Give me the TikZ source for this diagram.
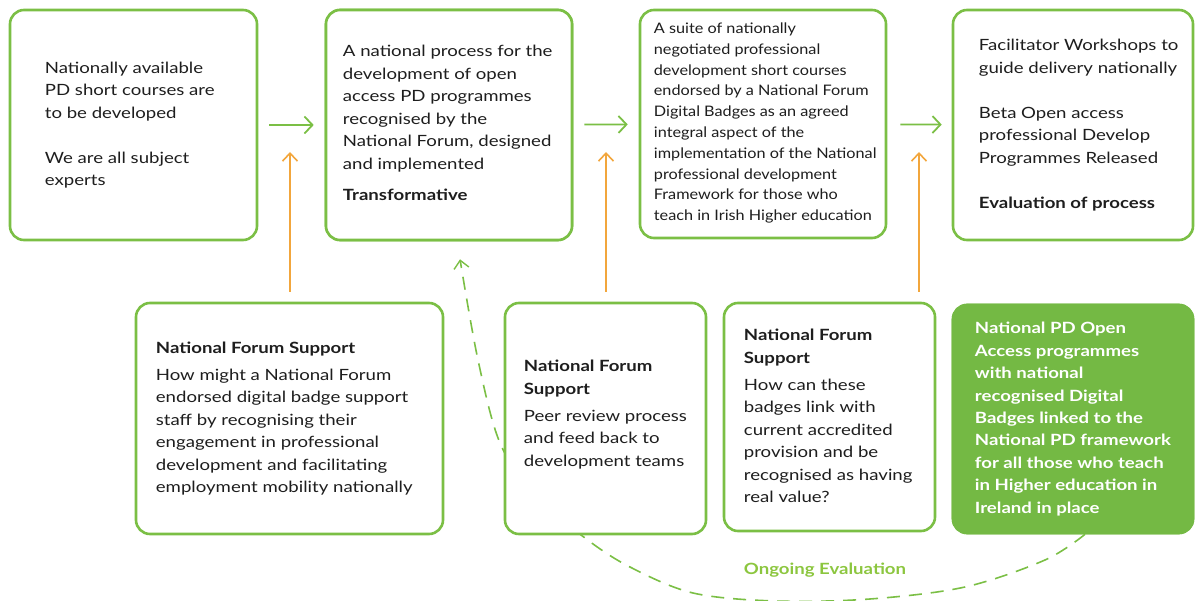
\documentclass[tikz,border=0pt]{standalone}
\usepackage{fontspec}
\setmainfont{Lato}[FakeStretch=1.2]
\newfontfamily\narrowlato{Lato}[FakeStretch=1.12]
\usetikzlibrary{arrows.meta}
\definecolor{gline}{HTML}{7BBF45}
\definecolor{gfill}{HTML}{74B944}
\definecolor{orng}{HTML}{F2A63C}
\definecolor{txt}{HTML}{1E1E1E}
\definecolor{glabel}{HTML}{8CC63F}
\begin{document}
\begin{tikzpicture}[x=1pt,y=-1pt,
  box/.style={draw=gline, line width=2.6pt, rounded corners=14pt, fill=white, inner sep=0pt},
  fbox/.style={box, fill=gfill, draw=gfill},
  btxt/.style={anchor=west, align=left, inner sep=0pt, text=txt, font=\fontsize{15.5}{22.5}\selectfont},
  stxt/.style={btxt, font=\narrowlato\fontsize{14.5}{20.8}\selectfont},
  wtxt/.style={btxt, text=white, font=\bfseries\fontsize{15.5}{22.4}\selectfont},
  garrow/.style={draw=gline, line width=1.8pt, -{Straight Barb[length=8pt,width=17pt,line width=1.8pt]}},
  oarrow/.style={draw=orng, line width=1.6pt, -{Straight Barb[length=8pt,width=15pt,line width=1.6pt]}},
  darrow/.style={draw=gline, line width=1.6pt, dash pattern=on 13pt off 9pt, -{Straight Barb[length=8pt,width=15pt,line width=1.4pt]}},
]
\useasboundingbox (0,0) rectangle (1195,601);

% dashed evaluation loop (drawn first, hidden behind boxes)
\node[box, minimum width=246pt, minimum height=230pt] (b2) at (449,125) {};
\node[fbox, minimum width=240pt, minimum height=228pt] (b8) at (1073,419) {};
\coordinate (e1) at ([xshift=12pt]b8.south);
\coordinate (e2) at ([xshift=11pt,yshift=-18pt]b2.south);
\draw[darrow] plot[smooth, tension=0.55] coordinates {(e1) (1045,560) (965,587) (870,599) (775,601) (693,593) (630,567) (585,538) (535,495) (500,443) (478,360) (e2)};

% top row
\node[box, minimum width=247pt, minimum height=230pt] (b1) at (133.5,125) {};
\node[box, minimum width=246pt, minimum height=230pt] (b2) at (449,125) {};
\node[box, minimum width=246pt, minimum height=228pt] (b3) at (763,124) {};
\node[box, minimum width=240pt, minimum height=230pt] (b4) at (1073,125) {};

\node[btxt] (t1) at ([xshift=36pt]b1.west) {Nationally available\\PD short courses are\\to be developed\\[22.5pt]We are all subject\\experts};
\node[btxt] (t2) at ([xshift=18pt,yshift=2pt]b2.west) {A national process for the\\development of open\\access PD programmes\\recognised by the\\National Forum, designed\\and implemented\\[8.5pt]\textbf{Transformative}};
\node[stxt] (t3) at ([xshift=15pt,yshift=1pt]b3.west) {A suite of nationally\\negotiated professional\\development short courses\\endorsed by a National Forum\\Digital Badges as an agreed\\integral aspect of the\\implementation of the National\\professional development\\Framework for those who\\teach in Irish Higher education};
\node[btxt] (t4) at ([xshift=27pt]b4.west) {Facilitator Workshops to\\guide delivery nationally\\[22.5pt]Beta Open access\\professional Develop\\Programmes Released\\[22.5pt]\textbf{Evaluation of process}};

% bottom row
\node[box, minimum width=307pt, minimum height=231pt] (b5) at (289.5,418.5) {};
\node[box, minimum width=201pt, minimum height=231pt] (b6) at (605.5,418.5) {};
\node[box, minimum width=211pt, minimum height=228pt] (b7) at (829.5,417) {};
\node[fbox, minimum width=240pt, minimum height=228pt] (b8) at (1073,419) {};

\node[btxt] (t5) at ([xshift=21pt]b5.west) {\textbf{National Forum Support}\\[4.5pt]How might a National Forum\\endorsed digital badge support\\staff by recognising their\\engagement in professional\\development and facilitating\\employment mobility nationally};
\node[btxt] (t6) at ([xshift=20pt,yshift=4pt]b6.west) {\textbf{National Forum}\\\textbf{Support}\\[4.5pt]Peer review process\\and feed back to\\development teams};
\node[btxt] (t7) at ([xshift=21pt,yshift=1pt]b7.west) {\textbf{National Forum}\\\textbf{Support}\\[4.5pt]How can these\\badges link with\\current accredited\\provision and be\\recognised as having\\real value?};
\node[wtxt] (t8) at ([xshift=23pt]b8.west) {National PD Open\\Access programmes\\with national\\recognised Digital\\Badges linked to the\\National PD framework\\for all those who teach\\in Higher education in\\Ireland in place};

\node[text=glabel, font=\bfseries\fontsize{15.5}{18}\selectfont, inner sep=0pt] (lab) at (825,570) {Ongoing Evaluation};

% green flow arrows
\draw[garrow, shorten <=11pt, shorten >=11pt] (b1) -- (b2);
\draw[garrow, shorten <=11pt, shorten >=11pt] (b2) -- (b3);
\draw[garrow, shorten <=13pt, shorten >=10pt] (b3) -- (b4);

% orange support arrows
\coordinate (o1s) at (290,292); \coordinate (o1e) at (290,152);
\coordinate (o2s) at (606,292); \coordinate (o2e) at (606,152);
\coordinate (o3s) at (919,292); \coordinate (o3e) at (919,152);
\draw[oarrow] (o1s) -- (o1e);
\draw[oarrow] (o2s) -- (o2e);
\draw[oarrow] (o3s) -- (o3e);
\end{tikzpicture}
\end{document}
